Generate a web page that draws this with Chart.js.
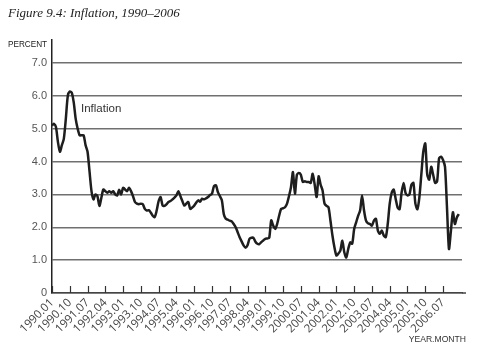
<!DOCTYPE html>
<html>
<head>
<meta charset="utf-8">
<script src="https://cdn.jsdelivr.net/npm/chart.js@4.4.1/dist/chart.umd.min.js"></script>
<style>
  html, body { margin: 0; padding: 0; background: #fff; }
  canvas { display: block; }
</style>
</head>
<body>
<canvas id="IDInflationChart" width="479" height="351"></canvas>
<script>
// monthly inflation, percent, starting 1990.01
const inflation = [
  // 1990
  5.1, 5.15, 5.05, 4.6, 4.3, 4.5, 4.7, 5.3, 6.0, 6.13, 6.1, 5.8,
  // 1991
  5.3, 5.0, 4.8, 4.8, 4.8, 4.5, 4.3, 3.7, 3.1, 2.85, 3.0, 2.95,
  // 1992
  2.65, 2.9, 3.15, 3.1, 3.05, 3.1, 3.05, 3.1, 3.0, 2.97, 3.14, 3.0,
  // 1993
  3.2, 3.15, 3.1, 3.2, 3.1, 2.95, 2.77, 2.72, 2.7, 2.72, 2.7, 2.56,
  // 1994
  2.51, 2.52, 2.45, 2.35, 2.31, 2.51, 2.8, 2.92, 2.66, 2.65, 2.7, 2.77,
  // 1995
  2.8, 2.85, 2.9, 2.97, 3.1, 2.95, 2.8, 2.66, 2.72, 2.77, 2.56, 2.6,
  // 1996
  2.66, 2.75, 2.82, 2.78, 2.87, 2.85, 2.88, 2.92, 2.98, 3.02, 3.25, 3.28,
  // 1997
  3.07, 2.95, 2.82, 2.4, 2.26, 2.23, 2.2, 2.18, 2.1, 2.0, 1.85, 1.7,
  // 1998
  1.57, 1.45, 1.38, 1.45, 1.65, 1.68, 1.68, 1.56, 1.5, 1.49, 1.55, 1.6,
  // 1999
  1.65, 1.66, 1.68, 2.21, 2.05, 1.95, 2.1, 2.35, 2.56, 2.58, 2.61, 2.72,
  // 2000
  2.95, 3.22, 3.68, 3.02, 3.6, 3.65, 3.6, 3.38, 3.4, 3.38, 3.38, 3.35,
  // 2001
  3.63, 3.3, 2.92, 3.55, 3.3, 3.12, 2.72, 2.65, 2.61, 2.2, 1.75, 1.39,
  // 2002
  1.14, 1.2, 1.29, 1.59, 1.24, 1.08, 1.34, 1.54, 1.5, 1.95, 2.15, 2.35,
  // 2003
  2.51, 2.97, 2.51, 2.2, 2.12, 2.1, 2.05, 2.2, 2.26, 1.9, 1.8, 1.9,
  // 2004
  1.75, 1.7, 2.1, 2.72, 3.05, 3.15, 2.87, 2.6, 2.55, 3.05, 3.35, 3.05,
  // 2005
  2.97, 3.0, 3.3, 3.35, 2.72, 2.55, 2.9, 3.6, 4.3, 4.55, 3.6, 3.45,
  // 2006
  3.84, 3.6, 3.35, 3.4, 4.1, 4.15, 4.05, 3.84, 2.6, 1.34, 1.9, 2.46,
  // 2007
  2.1, 2.3, 2.4
];

// x tick labels, one every 9 months
const xTickLabels = [
  "1990.01", "1990.10", "1991.07", "1992.04", "1993.01", "1993.10",
  "1994.07", "1995.04", "1996.01", "1996.10", "1997.07", "1998.04",
  "1999.01", "1999.10", "2000.07", "2001.04", "2002.01", "2002.10",
  "2003.07", "2004.04", "2005.01", "2005.10", "2006.07"
];
const xTickMonths = xTickLabels.map((s) => {
  const [yr, mo] = s.split(".").map(Number);
  return (yr - 1990) * 12 + (mo - 1);
});
const yTickValues = [0, 1, 2, 3, 4, 5, 6, 7];

const points = inflation.map((v, i) => ({ x: i, y: v }));

const decor = {
  id: "decor",
  afterDraw(chart) {
    const { ctx, chartArea, scales } = chart;
    const x = scales.x;
    const y = scales.y;
    ctx.save();
    // inward tick marks on the x axis
    ctx.strokeStyle = "#333";
    ctx.lineWidth = 1.2;
    xTickMonths.forEach((m) => {
      const px = Math.round(x.getPixelForValue(m)) + 0.5;
      ctx.beginPath();
      ctx.moveTo(px, chartArea.bottom);
      ctx.lineTo(px, chartArea.bottom - 7);
      ctx.stroke();
    });
    // axis line runs a bit past the plot
    ctx.strokeStyle = "#444";
    ctx.lineWidth = 1.5;
    ctx.beginPath();
    ctx.moveTo(chartArea.right, chartArea.bottom);
    ctx.lineTo(chartArea.right + 4, chartArea.bottom);
    ctx.stroke();

    ctx.fillStyle = "#222";
    ctx.textBaseline = "alphabetic";
    ctx.textAlign = "left";
    ctx.font = 'italic 13px "Liberation Serif"';
    ctx.fillText("Figure 9.4: Inflation, 1990\u20132006", 8, 17);

    ctx.font = '8.2px "Liberation Sans"';
    ctx.fillText("PERCENT", 8, 47);

    ctx.fillStyle = "#333";
    ctx.font = '8.6px "Liberation Sans"';
    ctx.textAlign = "right";
    ctx.fillText("YEAR.MONTH", chartArea.right + 4, 342);

    ctx.textAlign = "left";
    ctx.textBaseline = "middle";
    ctx.font = '11.5px "Liberation Sans"';
    ctx.fillText("Inflation", x.getPixelForValue(14.7), y.getPixelForValue(5.6));
    ctx.restore();
  },
};

new Chart(document.getElementById("IDInflationChart"), {
  type: "line",
  data: {
    datasets: [
      {
        data: points,
        borderColor: "#1e1e1e",
        borderWidth: 2.5,
        pointRadius: 0,
        tension: 0.25,
        fill: false,
      },
    ],
  },
  options: {
    responsive: false,
    animation: false,
    layout: { padding: { top: 40, right: 17, left: 0, bottom: 0 } },
    plugins: {
      legend: { display: false },
      tooltip: { enabled: false },
      title: { display: false },
    },
    scales: {
      x: {
        type: "linear",
        min: 0,
        max: 207.6,
        afterFit: (scale) => {
          scale.height = 58;
        },
        afterBuildTicks: (scale) => {
          scale.ticks = xTickMonths.map((v) => ({ value: v }));
        },
        grid: { display: false, drawTicks: false },
        border: { display: true, color: "#444", width: 1.5 },
        ticks: {
          autoSkip: false,
          minRotation: 45,
          maxRotation: 45,
          padding: 3,
          color: "#444",
          font: { family: "Open Sans", size: 11.5 },
          callback: (v) => xTickLabels[xTickMonths.indexOf(v)],
        },
      },
      y: {
        min: 0,
        max: 7.7,
        afterFit: (scale) => {
          scale.width = 52;
        },
        afterBuildTicks: (scale) => {
          scale.ticks = yTickValues.map((v) => ({ value: v }));
        },
        grid: { color: "#707070", lineWidth: 1.4, drawTicks: false },
        border: { display: true, color: "#222", width: 1.5 },
        ticks: {
          padding: 5,
          color: "#555",
          font: { family: "Liberation Sans", size: 11 },
          callback: (v) => (v === 0 ? "0" : v.toFixed(1)),
        },
      },
    },
  },
  plugins: [decor],
});
</script>
</body>
</html>
